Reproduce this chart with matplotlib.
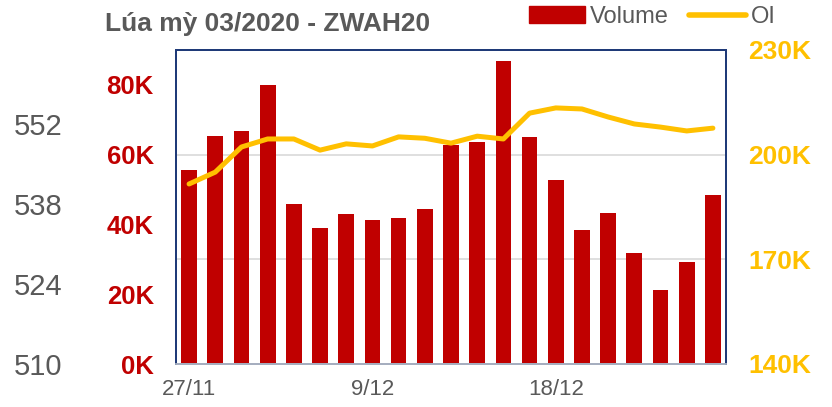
#!/usr/bin/env python3

'''
Wheat 03/2020 (ZWAH20): daily volume bars and open interest line.
'''

import matplotlib
matplotlib.use('Agg')
import matplotlib.pyplot as plt
from matplotlib.lines import Line2D
from matplotlib.patches import Patch
from matplotlib.ticker import FuncFormatter


dates = ['27/11', '29/11', '2/12', '3/12', '4/12', '5/12', '6/12', '9/12',
         '10/12', '11/12', '12/12', '13/12', '16/12', '17/12', '18/12',
         '19/12', '20/12', '23/12', '24/12', '26/12', '27/12']
volume = [55600, 65300, 66800, 80000, 45900, 39000, 43000, 41300, 41800,
          44400, 62800, 63600, 86800, 65100, 52700, 38400, 43300, 31800,
          21200, 29200, 48400]
oi = [191600, 195000, 202200, 204500, 204500, 201300, 203100, 202500,
      205100, 204700, 203300, 205300, 204500, 211900, 213400, 213100,
      210800, 208800, 207900, 206800, 207600]
price_ticks = [510, 524, 538, 552]

red = '#C00000'
gold = '#FFC000'
grey = '#595959'
navy = '#1F3A78'

plt.rcParams['font.family'] = ['Liberation Sans', 'DejaVu Sans']

fig = plt.figure(figsize=(8.32, 4.07), dpi=100)
ax = fig.add_axes([176 / 832, 1 - 364 / 407, 550 / 832, 314 / 407])
ax2 = ax.twinx()
ax3 = ax.twinx()

x = list(range(len(dates)))

# volume bars, left axis
ax.bar(x, volume, width=0.6, color=red, zorder=2)
ax.set_xlim(-0.5, len(dates) - 0.5)
ax.set_ylim(0, 90000)
ax.set_yticks([0, 20000, 40000, 60000, 80000])
ax.yaxis.set_major_formatter(FuncFormatter(lambda v, p: f'{v / 1000:.0f}K'))
ax.yaxis.remove_overlapping_locs = False
ax.set_yticks([30000, 60000], minor=True)
ax.grid(axis='y', which='minor', color='#D9D9D9', lw=1.2)
ax.set_axisbelow(True)
ax.tick_params(axis='y', which='both', length=0, pad=16, labelsize=18.5,
               labelcolor=red)
for lab in ax.get_yticklabels():
    lab.set_fontweight('bold')
ax.set_xticks(x[::7])
ax.set_xticklabels(dates[::7])
ax.tick_params(axis='x', length=0, pad=11, labelsize=16, labelcolor=grey)

# open interest, right axis
ax2.plot(x, oi, color=gold, lw=3.6, solid_capstyle='round',
         solid_joinstyle='round')
ax2.set_ylim(140000, 230000)
ax2.set_yticks([140000, 170000, 200000, 230000])
ax2.yaxis.set_major_formatter(FuncFormatter(lambda v, p: f'{v / 1000:.0f}K'))
ax2.tick_params(axis='y', length=0, pad=16, labelsize=19, labelcolor=gold)
for lab in ax2.get_yticklabels():
    lab.set_fontweight('bold')

# price scale on the far left, no series drawn
ax3.set_ylim(510, 565)
ax3.set_yticks(price_ticks)
ax3.yaxis.tick_left()
ax3.tick_params(axis='y', length=0, pad=82, labelsize=21, labelcolor=grey)

for a in (ax, ax2, ax3):
    for side in ('left', 'top', 'right'):
        a.spines[side].set_color(navy)
        a.spines[side].set_linewidth(1.3)
    a.spines['bottom'].set_color('#A6AEBF')
    a.spines['bottom'].set_linewidth(1.3)

fig.text(105 / 832, 1 - 24 / 407, 'Lúa mỳ 03/2020 - ZWAH20', fontsize=19,
         fontweight='bold', color=grey, va='center', ha='left')

handles = [Patch(facecolor=red, edgecolor=red),
           Line2D([], [], color=gold, lw=4, solid_capstyle='round')]
fig.legend(handles, ['Volume', 'OI'], loc='center left',
           bbox_to_anchor=(517 / 832, 1 - 17 / 407), ncol=2, frameon=False,
           fontsize=17, labelcolor=grey, borderpad=0, handlelength=2.4,
           handleheight=0.75, handletextpad=0.2, columnspacing=0.85)

fig.savefig('out.png', dpi=100)
